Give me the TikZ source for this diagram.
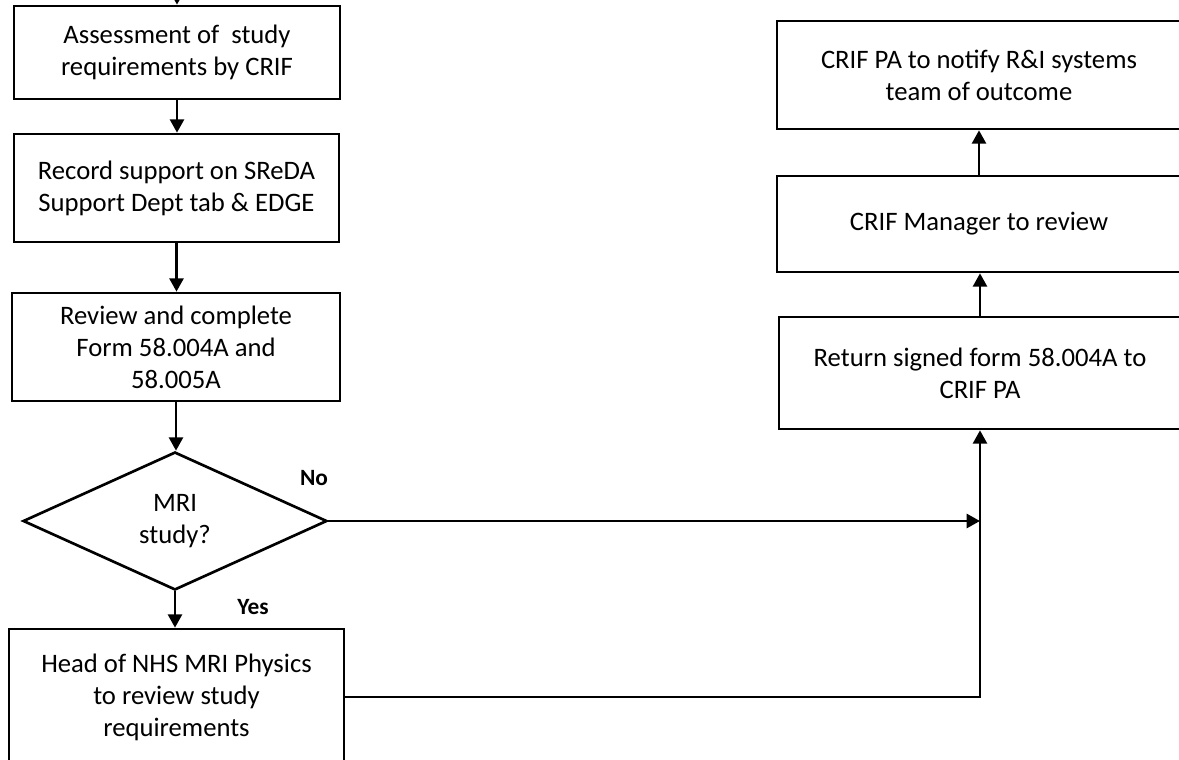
\documentclass[tikz,border=0pt]{standalone}
\usepackage{fontspec}
\setmainfont{Carlito}
\usetikzlibrary{shapes.geometric,arrows.meta}
\tikzset{
  box/.style={draw, line width=2pt, rectangle, inner sep=0pt, align=center,
    font=\fontsize{20}{24}\selectfont},
  decision/.style={draw, line width=2pt, diamond, inner sep=0pt, align=center,
    font=\fontsize{20}{24}\selectfont},
  conn/.style={line width=2pt, -{Triangle[width=10.5pt,length=10pt]}},
  lbl/.style={font=\fontsize{17.5}{20}\selectfont\bfseries, inner sep=0pt}
}
\begin{document}
\begin{tikzpicture}[x=0.75pt,y=-0.75pt]
\useasboundingbox (0,0) rectangle (1179,760);
% left column
\node[box, minimum width=244.5pt, minimum height=69.75pt] (b1) at (177,52.5)
  {Assessment of\ \ study\\requirements by CRIF};
\node[box, minimum width=243.75pt, minimum height=81pt] (b2) at (176.5,188)
  {Record support on SReDA\\Support Dept tab \& EDGE};
\node[box, minimum width=246pt, minimum height=81pt] (b3) at (176,347)
  {Review and complete\\Form 58.004A and\\58.005A};
\node[decision, minimum width=228pt, minimum height=103.5pt] (dia) at (175,521)
  {MRI\\study?};
\node[box, minimum width=251.25pt, minimum height=102pt] (b5) at (176.5,697)
  {Head of NHS MRI Physics\\to review study\\requirements};
% right column
\node[box, minimum width=303pt, minimum height=81pt] (r1) at (979,75)
  {CRIF PA to notify R\&I systems\\team of outcome};
\node[box, minimum width=303pt, minimum height=72pt] (r2) at (979,224)
  {CRIF Manager to review};
\node[box, minimum width=301.5pt, minimum height=84pt] (r3) at (980,373)
  {Return signed form 58.004A to\\CRIF PA};
% connectors
\coordinate (top) at (177,-30);
\draw[conn] (top) -- (b1.north);
\draw[conn] (b1.south) -- (b1.south |- b2.north);
\draw[conn] (b2.south) -- (b2.south |- b3.north);
\draw[conn] (b3.south) -- (b3.south |- dia.north);
\draw[conn] (dia.south) -- (dia.south |- b5.north);
\coordinate (j1) at (r3.south |- dia.east);
\draw[conn] (dia.east) -- (j1);
\draw[conn] (b5.east) -- (b5.east -| r3.south) -- (r3.south);
\draw[conn] (r3.north) -- (r3.north |- r2.south);
\draw[conn] (r2.north) -- (r2.north |- r1.south);
% labels
\node[lbl] (no) at (314,478) {No};
\node[lbl] (yes) at (253,607) {Yes};
\end{tikzpicture}
\end{document}
